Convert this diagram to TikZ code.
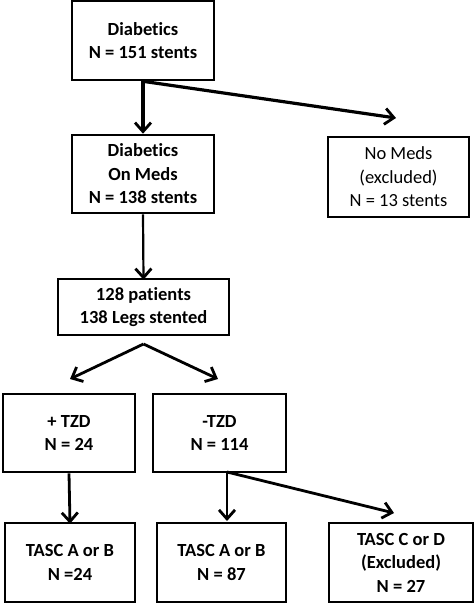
\documentclass[tikz,border=0pt]{standalone}
\usepackage{fontspec}
\setmainfont[Ligatures=NoCommon]{Carlito}
\usetikzlibrary{arrows.meta}
\begin{document}
\begin{tikzpicture}[x=1pt, y=-1pt, box/.style={rectangle, draw, line width=2.6pt, align=center, inner sep=0pt, font=\fontsize{18.5}{23.5}\selectfont\bfseries}, excl/.style={box, font=\fontsize{18.5}{23.5}\selectfont}, arr/.style={line width=2.8pt, -{Straight Barb[length=9pt, width=16pt, line width=2.8pt]}}]
        \useasboundingbox (0,0) rectangle (474,603);

        \node[box, minimum width=142, minimum height=79] at (143, 40.5) (dia){Diabetics\\N = 151 stents};
        \node[box, minimum width=142, minimum height=78] at (143, 174) (meds){Diabetics\\On Meds\\N = 138 stents};
        \node[excl, minimum width=141, minimum height=80] at (398.5, 177) (nomeds){No Meds\\(excluded)\\N = 13 stents};
        \node[box, minimum width=171, minimum height=56] at (143.5, 307) (pat){128 patients\\138 Legs stented};
        \node[box, minimum width=132, minimum height=78] at (69, 433) (tzdp){+ TZD\\N = 24};
        \node[box, minimum width=133, minimum height=78] at (219.5, 433) (tzdm){-TZD\\N = 114};
        \node[box, minimum width=130, minimum height=79] at (70, 562.5) (tascp){TASC A or B\\N =24};
        \node[box, minimum width=129, minimum height=79] at (221.5, 562.5) (tascm){TASC A or B\\N = 87};
        \node[box, minimum width=144, minimum height=79] at (401, 562.5) (tasccd){TASC C or D\\(Excluded)\\N = 27};

        % free ends of the connectors
        \coordinate (nomedsin) at (396, 118);
        \coordinate (patout) at (143.5, 344);
        \coordinate (tzdpin) at (70, 379);
        \coordinate (tzdmin) at (218, 379);
        \coordinate (tzdmout) at (227, 472);
        \coordinate (tascmin) at (227, 521);
        \coordinate (tasccdin) at (394, 513);

        \draw[arr, line width=3.6pt] (dia.south) -- (meds.north);
        \draw[arr, line width=3.2pt] (dia.south) -- (nomedsin);
        \draw[arr, line width=2.2pt] (meds.south) -- ([yshift=-2pt]pat.north);
        \draw[arr] (patout) -- (tzdpin);
        \draw[arr] (patout) -- (tzdmin);
        \draw[arr] (tzdp.south) -- ([yshift=-2pt]tascp.north);
        \draw[arr] (tzdmout) -- (tascmin);
        \draw[arr] (tzdmout) -- (tasccdin);
\end{tikzpicture}
\end{document}
